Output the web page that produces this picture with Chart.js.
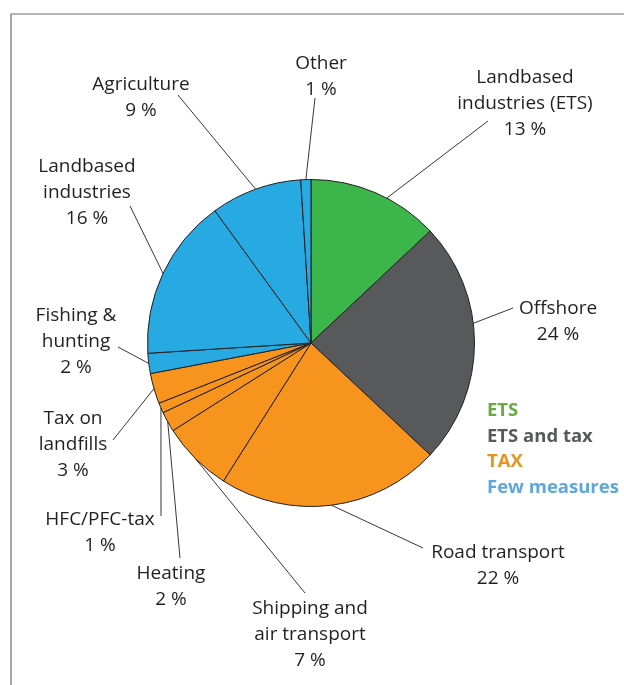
<!DOCTYPE html>
<html>
<head>
<meta charset="utf-8">
<script src="https://cdn.jsdelivr.net/npm/chart.js@4/dist/chart.umd.min.js"></script>
<style>
  html, body { margin: 0; padding: 0; background: #fff; }
  #chart { display: block; }
</style>
</head>
<body>
<canvas id="chart" width="624" height="685"></canvas>
<script>
// sectors, clockwise from 12 o'clock
const sectors = ['Landbased industries (ETS)', 'Offshore', 'Road transport', 'Shipping and air transport',
  'Heating', 'HFC/PFC-tax', 'Tax on landfills', 'Fishing & hunting', 'Landbased industries', 'Agriculture', 'Other'];
const shares = [13, 24, 22, 7, 2, 1, 3, 2, 16, 9, 1];
const sectorGroup = [0, 1, 2, 2, 2, 2, 2, 3, 3, 3, 3];

const groupNames = ['ETS', 'ETS and tax', 'TAX', 'Few measures'];
const groupFill = ['#3cb54a', '#58595b', '#f7941e', '#27aae1'];
const groupText = ['#66ab3c', '#58595b', '#e69321', '#5ea7dd'];

// label placement (text centre x, first line y, leader start, where on the slice edge it ends)
const callouts = [
  { lines: ['Landbased', 'industries (ETS)'], x: 525, y: 78, from: [488, 121], at: 0.59 },
  { lines: ['Offshore'], x: 558, y: 309, from: [513, 308], at: 0.42 },
  { lines: ['Road transport'], x: 498, y: 553, from: [423, 548], at: 0.5 },
  { lines: ['Shipping and', 'air transport'], x: 310, y: 609, from: [305, 593], at: 0.5 },
  { lines: ['Heating'], x: 171, y: 574, from: [180, 558], at: 0.5 },
  { lines: ['HFC/PFC-tax'], x: 100, y: 520, from: [161, 516], at: 0.5 },
  { lines: ['Tax on', 'landfills'], x: 73, y: 419, from: [113, 440], at: 0.5 },
  { lines: ['Fishing &', 'hunting'], x: 76, y: 316, from: [118, 347], at: 0.5 },
  { lines: ['Landbased', 'industries'], x: 87, y: 167, from: [130, 206], at: 0.5 },
  { lines: ['Agriculture'], x: 141, y: 85, from: [178, 95], at: 0.5 },
  { lines: ['Other'], x: 321, y: 64, from: [315, 98], at: 0.5 }
];

const TEXT = '#231f20';
const LINE_H = 26;

const calloutPlugin = {
  id: 'callouts',
  beforeDraw(chart) {
    const ctx = chart.ctx;
    ctx.save();
    ctx.strokeStyle = '#6d6e71';
    ctx.lineWidth = 1.2;
    ctx.beginPath();
    ctx.moveTo(11, chart.height);
    ctx.lineTo(11, 14);
    ctx.lineTo(chart.width, 14);
    ctx.stroke();
    ctx.restore();
  },
  afterDatasetsDraw(chart) {
    const ctx = chart.ctx;
    const arcs = chart.getDatasetMeta(0).data;
    ctx.save();

    // leader lines
    ctx.strokeStyle = TEXT;
    ctx.lineWidth = 0.9;
    arcs.forEach((arc, i) => {
      const c = callouts[i];
      const a = arc.startAngle + (arc.endAngle - arc.startAngle) * c.at;
      const ex = arc.x + Math.cos(a) * arc.outerRadius;
      const ey = arc.y + Math.sin(a) * arc.outerRadius;
      ctx.beginPath();
      ctx.moveTo(c.from[0], c.from[1]);
      ctx.lineTo(ex, ey);
      ctx.stroke();
    });

    // labels
    ctx.fillStyle = TEXT;
    ctx.font = '19px "Open Sans"';
    ctx.textAlign = 'center';
    ctx.textBaseline = 'middle';
    callouts.forEach((c, i) => {
      const rows = c.lines.concat([shares[i] + ' %']);
      rows.forEach((t, k) => ctx.fillText(t, c.x, c.y + k * LINE_H));
    });

    // colour key
    ctx.font = 'bold 18.5px "Open Sans"';
    ctx.textAlign = 'left';
    groupNames.forEach((g, k) => {
      ctx.fillStyle = groupText[k];
      ctx.fillText(g, 487, 411 + k * 25.5);
    });
    ctx.restore();
  }
};

new Chart(document.getElementById('chart'), {
  type: 'pie',
  data: {
    labels: sectors,
    datasets: [{
      data: shares,
      backgroundColor: sectorGroup.map(g => groupFill[g]),
      borderColor: '#231f20',
      borderWidth: 1
    }]
  },
  options: {
    responsive: false,
    animation: false,
    layout: { padding: { left: 147, right: 149, top: 179, bottom: 178 } },
    plugins: {
      legend: { display: false },
      tooltip: { enabled: false }
    }
  },
  plugins: [calloutPlugin]
});
</script>
</body>
</html>
